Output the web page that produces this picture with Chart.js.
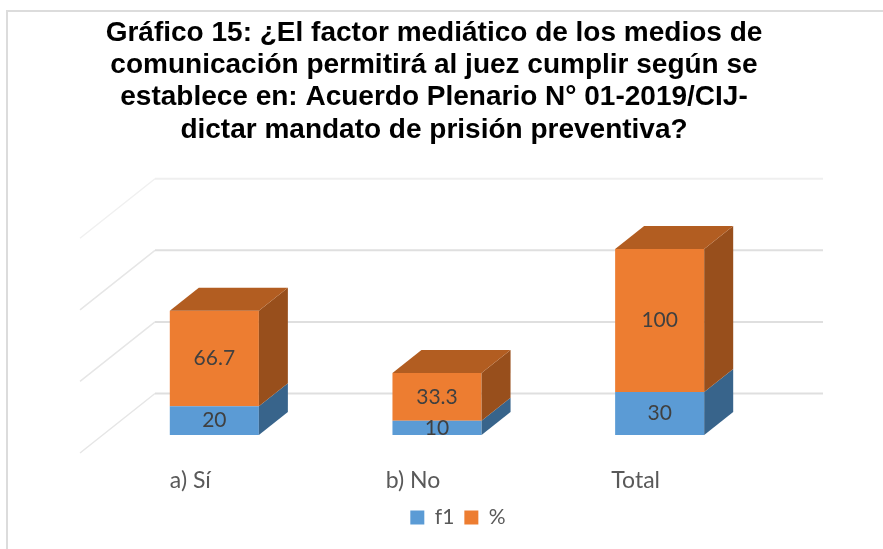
<!DOCTYPE html>
<html lang="es">
<head>
<meta charset="utf-8">
<title>Gráfico 15</title>
<script src="https://cdn.jsdelivr.net/npm/chart.js@4"></script>
<style>
html,body{margin:0;padding:0;background:#fff;}
canvas{display:block;filter:blur(0.4px);}
</style>
</head>
<body>
<canvas id="c" width="883" height="549"></canvas>
<script>
const titleLines = [
  "Gráfico 15: ¿El factor mediático de los medios de",
  "comunicación permitirá al juez cumplir según se",
  "establece en: Acuerdo Plenario N° 01-2019/CIJ-",
  "dictar mandato de prisión preventiva?"
];
const categories = ["a) Sí", "b) No", "Total"];
const f1Values = [20, 10, 30];
const pctValues = [66.7, 33.3, 100];
const seriesNames = ["f1", "%"];

const DEPTH_X = 29, DEPTH_Y = 23;
const WALL_X = 52, WALL_Y = 41.5, FLOOR_X = 23, FLOOR_Y = 18;
const sideColors = ["#38648B", "#984F1C"];
const TOP_COLOR = "#B25D21";

function poly(ctx, pts, color) {
  ctx.fillStyle = color;
  ctx.beginPath();
  pts.forEach((p, i) => i ? ctx.lineTo(p[0], p[1]) : ctx.moveTo(p[0], p[1]));
  ctx.closePath();
  ctx.fill();
}

const box3d = {
  id: "box3d",
  afterLayout(chart) {
    chart.legend.left += 24;
    chart.legend.right += 24;
  },
  beforeDraw(chart) {
    const ctx = chart.ctx;
    ctx.save();
    ctx.strokeStyle = "#dcdcdc";
    ctx.lineWidth = 2;
    ctx.beginPath();
    ctx.moveTo(7, 549);
    ctx.lineTo(7, 11);
    ctx.lineTo(883, 11);
    ctx.stroke();
    ctx.restore();
  },
  beforeDatasetsDraw(chart) {
    const ctx = chart.ctx, x = chart.scales.x, y = chart.scales.y;
    ctx.save();
    y.ticks.forEach((t) => {
      const py = y.getPixelForValue(t.value);
      ctx.strokeStyle = t.value === 150 ? "#f0f0f0" : "#e6e6e6";
      ctx.lineWidth = 1.5;
      ctx.beginPath();
      ctx.moveTo(x.left - FLOOR_X, py + FLOOR_Y);
      ctx.lineTo(x.left + WALL_X, py - WALL_Y);
      ctx.stroke();
      ctx.strokeStyle = t.value === 150 ? "#efefef" : "#dfdfdf";
      ctx.lineWidth = 2;
      ctx.beginPath();
      ctx.moveTo(x.left + WALL_X, py - WALL_Y);
      ctx.lineTo(x.right + WALL_X, py - WALL_Y);
      ctx.stroke();
    });
    ctx.restore();
  },
  afterDatasetsDraw(chart) {
    const ctx = chart.ctx;
    const last = chart.data.datasets.length - 1;
    ctx.save();
    chart.data.datasets.forEach((ds, d) => {
      chart.getDatasetMeta(d).data.forEach((bar, i) => {
        const r = bar.x + bar.width / 2, l = bar.x - bar.width / 2;
        poly(ctx, [[r, bar.y], [r + DEPTH_X, bar.y - DEPTH_Y], [r + DEPTH_X, bar.base - DEPTH_Y], [r, bar.base]], sideColors[d]);
        if (d === last) {
          poly(ctx, [[l, bar.y], [l + DEPTH_X, bar.y - DEPTH_Y], [r + DEPTH_X, bar.y - DEPTH_Y], [r, bar.y]], TOP_COLOR);
        }
        ctx.fillStyle = "#404040";
        ctx.font = "21px Lato";
        ctx.textAlign = "center";
        ctx.textBaseline = "middle";
        ctx.fillText(String(ds.data[i]), bar.x, (bar.y + bar.base) / 2);
      });
    });
    ctx.restore();
  }
};

new Chart(document.getElementById("c"), {
  type: "bar",
  data: {
    labels: categories,
    datasets: [
      { label: seriesNames[0], data: f1Values, backgroundColor: "#5B9BD5", borderWidth: 0 },
      { label: seriesNames[1], data: pctValues, backgroundColor: "#ED7D31", borderWidth: 0 }
    ]
  },
  options: {
    responsive: false,
    animation: false,
    layout: { padding: { left: 0, right: 15, top: 0, bottom: 11 } },
    datasets: { bar: { categoryPercentage: 1, barPercentage: 0.4 } },
    plugins: {
      tooltip: { enabled: false },
      title: {
        display: true,
        text: titleLines,
        color: "#000000",
        font: { family: "'Liberation Sans'", size: 28, weight: "bold", lineHeight: 1.154 },
        padding: { top: 17, bottom: 74 }
      },
      legend: {
        position: "bottom",
        labels: {
          boxWidth: 14,
          boxHeight: 14,
          padding: 10,
          color: "#595959",
          font: { family: "Lato", size: 21 }
        }
      }
    },
    scales: {
      x: {
        stacked: true,
        grid: { display: false },
        border: { display: false },
        ticks: { color: "#595959", font: { family: "Lato", size: 23 }, labelOffset: -24, padding: 24, maxRotation: 0 },
        afterFit(s) { s.height = 62; }
      },
      y: {
        stacked: true,
        min: 0,
        max: 150,
        grid: { display: false },
        border: { display: false },
        ticks: { display: false, stepSize: 50 },
        afterFit(s) { s.width = 103; }
      },
      yRight: {
        position: "right",
        min: 0,
        max: 150,
        grid: { display: false },
        border: { display: false },
        ticks: { display: false },
        afterFit(s) { s.width = 97; }
      }
    }
  },
  plugins: [box3d]
});
</script>
</body>
</html>
